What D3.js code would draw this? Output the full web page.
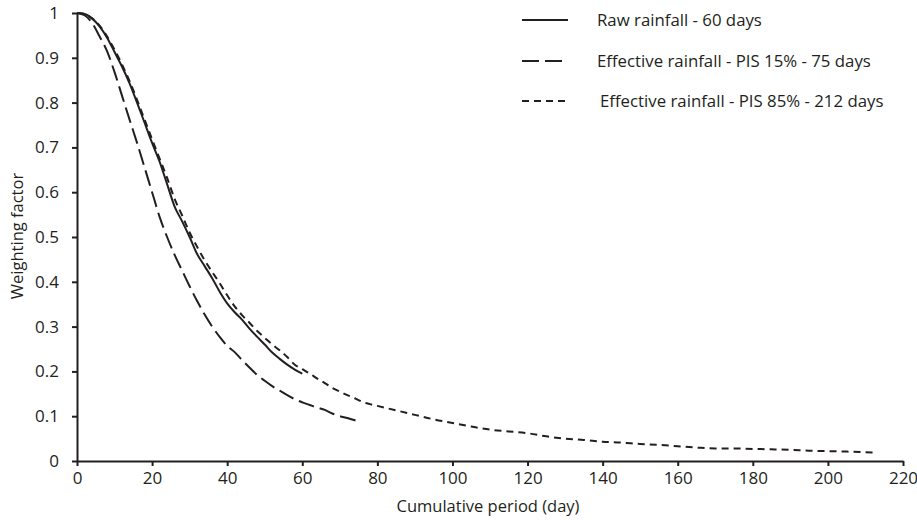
<!DOCTYPE html>
<html>
<head>
    <title>Weighting factor vs cumulative period</title>
    <script src="https://d3js.org/d3.v7.min.js"></script>
    <style>
        body { margin: 0; background: #fff; }
        text { font-family: "Open Sans", sans-serif; fill: #231f20; }
    </style>
</head>
<body>
<script>
    var width = 917, height = 520;

    // data (day, weighting factor)
    var rawDays = [0, 2, 4, 6, 8, 10, 12, 14, 16, 18, 20, 22, 24, 26, 28, 30, 32, 34, 36, 38, 40,
        42, 44, 46, 48, 50, 52, 54, 56, 58, 60];
    var rawValues = [1, 0.998, 0.988, 0.97, 0.945, 0.913, 0.88, 0.843, 0.8, 0.755, 0.71, 0.668, 0.618,
        0.568, 0.535, 0.5, 0.462, 0.435, 0.408, 0.378, 0.352, 0.332, 0.315, 0.295, 0.277, 0.26,
        0.242, 0.228, 0.215, 0.204, 0.195];

    var pis15Days = [0, 2, 4, 6, 8, 10, 12, 14, 16, 18, 20, 22, 24, 26, 28, 30, 32, 34, 36, 38, 40,
        42, 44, 46, 48, 50, 52, 54, 56, 58, 60, 62, 64, 66, 68, 70, 72, 74, 75];
    var pis15Values = [1, 0.995, 0.978, 0.948, 0.915, 0.868, 0.815, 0.762, 0.71, 0.655, 0.6, 0.545,
        0.5, 0.46, 0.425, 0.39, 0.357, 0.327, 0.3, 0.277, 0.257, 0.243, 0.225, 0.208, 0.192, 0.179,
        0.167, 0.157, 0.147, 0.138, 0.131, 0.125, 0.119, 0.114, 0.106, 0.1, 0.096, 0.091, 0.088];

    var pis85Days = [0, 2, 4, 6, 8, 10, 12, 14, 16, 18, 20, 22, 24, 26, 28, 30, 32, 34, 36, 38, 40,
        42, 44, 46, 48, 50, 52, 54, 56, 58, 60, 62, 64, 66, 68, 70, 72, 74, 76, 78, 80, 85, 90, 95,
        100, 105, 110, 115, 120, 125, 130, 135, 140, 145, 150, 155, 160, 165, 170, 175, 180, 185,
        190, 195, 200, 205, 212];
    var pis85Values = [1, 0.998, 0.988, 0.972, 0.948, 0.918, 0.885, 0.848, 0.806, 0.762, 0.718,
        0.675, 0.632, 0.585, 0.548, 0.51, 0.478, 0.448, 0.422, 0.397, 0.37, 0.345, 0.325, 0.308,
        0.29, 0.275, 0.26, 0.247, 0.232, 0.215, 0.205, 0.195, 0.184, 0.174, 0.163, 0.155, 0.147,
        0.14, 0.132, 0.127, 0.123, 0.113, 0.103, 0.093, 0.085, 0.077, 0.07, 0.066, 0.062, 0.055,
        0.05, 0.047, 0.043, 0.041, 0.038, 0.036, 0.033, 0.03, 0.028, 0.028, 0.027, 0.026, 0.025,
        0.023, 0.022, 0.021, 0.019];

    var seriesNames = ["Raw rainfall - 60 days",
        "Effective rainfall - PIS 15% - 75 days",
        "Effective rainfall - PIS 85% - 212 days"];

    var xTicks = [0, 20, 40, 60, 80, 100, 120, 140, 160, 180, 200, 220];
    var yTicks = [0, 0.1, 0.2, 0.3, 0.4, 0.5, 0.6, 0.7, 0.8, 0.9, 1];

    var ink = "#231f20";
    var margin = {left: 77, right: 14, top: 13, bottom: 59};

    var svg = d3.select("body").append("svg")
        .attr("width", width)
        .attr("height", height);

    var x = d3.scaleLinear().domain([0, 220]).range([margin.left, width - margin.right]);
    var y = d3.scaleLinear().domain([0, 1]).range([height - margin.bottom, margin.top]);

    var series = [
        {name: seriesNames[0], days: rawDays, values: rawValues, dash: null},
        {name: seriesNames[1], days: pis15Days, values: pis15Values, dash: "16,6"},
        {name: seriesNames[2], days: pis85Days, values: pis85Values, dash: "7,5"}
    ];

    var line = d3.line()
        .x(function(d) { return x(d[0]); })
        .y(function(d) { return y(d[1]); })
        .curve(d3.curveMonotoneX);

    series.forEach(function(s) {
        svg.append("path")
            .datum(d3.zip(s.days, s.values))
            .attr("fill", "none")
            .attr("stroke", ink)
            .attr("stroke-width", 2)
            .attr("stroke-dasharray", s.dash)
            .attr("d", line);
    });

    // axes
    var xAxis = svg.append("g")
        .attr("transform", "translate(0," + y(0) + ")")
        .call(d3.axisBottom(x).tickValues(xTicks).tickSize(5).tickSizeOuter(0).tickPadding(6));
    var yAxis = svg.append("g")
        .attr("transform", "translate(" + x(0) + ",0)")
        .call(d3.axisLeft(y).tickValues(yTicks).tickSize(5).tickSizeOuter(0).tickPadding(13)
            .tickFormat(function(d) { return d === 0 ? "0" : d === 1 ? "1" : d.toFixed(1); }));

    [xAxis, yAxis].forEach(function(a) {
        a.select(".domain").attr("stroke", ink).attr("stroke-width", 2);
        a.selectAll(".tick line").attr("stroke", ink).attr("stroke-width", 2);
        a.selectAll(".tick text").attr("fill", ink)
            .style("font-family", "'Open Sans', sans-serif").style("font-size", "17px");
    });

    svg.append("text")
        .attr("x", (x(0) + x(220)) / 2 - 2)
        .attr("y", 512)
        .attr("text-anchor", "middle")
        .style("font-size", "16.5px")
        .text("Cumulative period (day)");

    svg.append("text")
        .attr("transform", "translate(23," + (y(0.5) - 1) + ") rotate(-90)")
        .attr("text-anchor", "middle")
        .style("font-size", "16.5px")
        .text("Weighting factor");

    // legend
    var legendY = [20, 61, 101];
    var legendTextX = [597, 597, 600];
    series.forEach(function(s, i) {
        svg.append("line")
            .attr("x1", 522).attr("x2", 568)
            .attr("y1", legendY[i]).attr("y2", legendY[i])
            .attr("stroke", ink)
            .attr("stroke-width", 2)
            .attr("stroke-dasharray", i === 1 ? "17,6" : s.dash);
        svg.append("text")
            .attr("x", legendTextX[i])
            .attr("y", legendY[i] + 6)
            .style("font-size", "16.8px")
            .text(s.name);
    });
</script>
</body>
</html>
